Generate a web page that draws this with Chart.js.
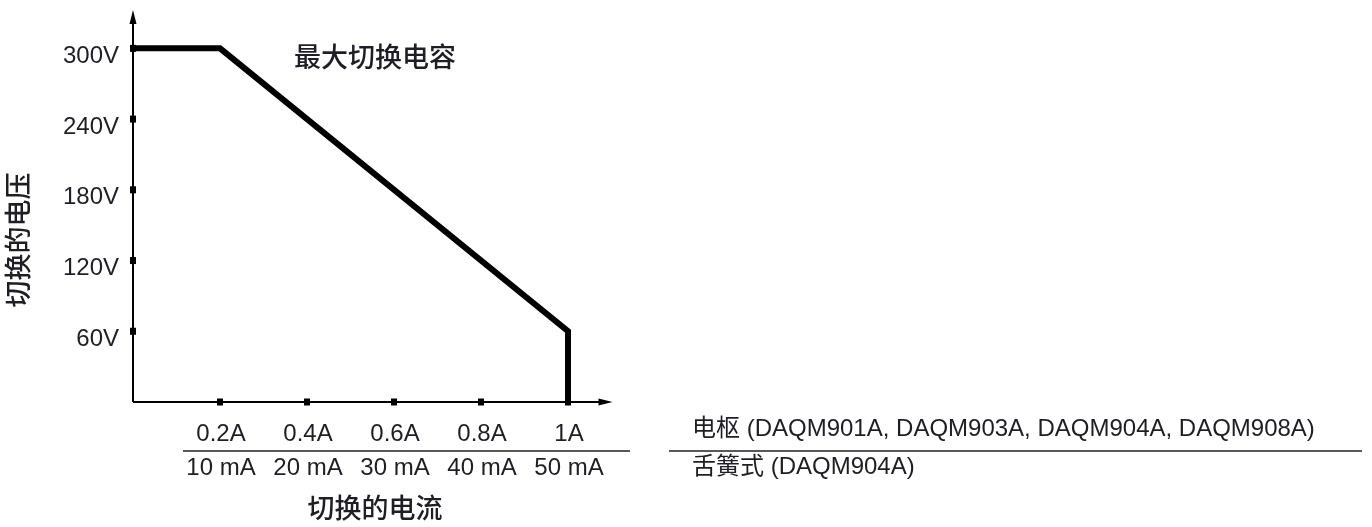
<!DOCTYPE html>
<html>
<head>
<meta charset="utf-8">
<script src="https://cdn.jsdelivr.net/npm/chart.js@4.4.1/dist/chart.umd.min.js"></script>
<style>
  html, body { margin: 0; padding: 0; background: #fff; }
  #wrap { width: 1372px; height: 527px; position: relative; }
</style>
</head>
<body>
<div id="wrap"><canvas id="derating"></canvas></div>
<script>
// curve: max switched voltage vs switched current
var currentA = [0, 0.2, 1.0, 1.0];
var voltageV = [300, 300, 60, 0];

// tick labels
var xTickVals = [0.2, 0.4, 0.6, 0.8, 1.0];
var xTickAmp = ['0.2A', '0.4A', '0.6A', '0.8A', '1A'];
var xTickReed = ['10 mA', '20 mA', '30 mA', '40 mA', '50 mA'];
var yTickVals = [60, 120, 180, 240, 300];
var yTickText = ['60V', '120V', '180V', '240V', '300V'];

var rowArmature = '电枢 (DAQM901A, DAQM903A, DAQM904A, DAQM908A)';
var rowReed = '舌簧式 (DAQM904A)';
var curveLabel = '最大切换电容';
var xTitle = '切换的电流';
var yTitle = '切换的电压';

var FONT = "'Liberation Sans', Arial, 'Noto Sans CJK SC', sans-serif";
var INK = '#1e1e24';

function findIdx(list, v) {
  for (var i = 0; i < list.length; i++) {
    if (Math.abs(list[i] - v) < 1e-6) return i;
  }
  return -1;
}

// axes with arrows, tick dots, extra label rows
var decor = {
  id: 'decor',
  beforeDatasetsDraw: function(chart) {
    var c = chart.ctx, x = chart.scales.x, y = chart.scales.y;
    var x0 = x.getPixelForValue(0), y0 = y.getPixelForValue(0);
    var xEnd = x.right + 1, yEnd = y.top - 3;
    c.save();
    c.strokeStyle = '#000';
    c.fillStyle = '#000';
    c.lineWidth = 2;
    c.beginPath();
    c.moveTo(x0, y0); c.lineTo(xEnd - 6, y0);
    c.moveTo(x0, y0); c.lineTo(x0, yEnd + 6);
    c.stroke();
    // arrow heads
    c.beginPath();
    c.moveTo(xEnd, y0); c.lineTo(xEnd - 14, y0 - 3.5); c.lineTo(xEnd - 14, y0 + 3.5); c.closePath();
    c.fill();
    c.beginPath();
    c.moveTo(x0, yEnd); c.lineTo(x0 - 3.5, yEnd + 14); c.lineTo(x0 + 3.5, yEnd + 14); c.closePath();
    c.fill();
    c.restore();
  },
  afterDraw: function(chart) {
    var c = chart.ctx, x = chart.scales.x, y = chart.scales.y;
    var x0 = x.getPixelForValue(0), y0 = y.getPixelForValue(0);
    c.save();
    c.fillStyle = '#000';
    xTickVals.forEach(function(v) {
      c.fillRect(x.getPixelForValue(v) - 3, y0 - 3.5, 6, 7);
    });
    yTickVals.forEach(function(v) {
      c.fillRect(x0 - 3, y.getPixelForValue(v) - 3.5, 6, 7);
    });

    // separator lines between the two current rows
    c.strokeStyle = '#222';
    c.lineWidth = 1.5;
    c.beginPath();
    c.moveTo(183, 451); c.lineTo(630, 451);
    c.moveTo(669, 451); c.lineTo(1362, 451);
    c.stroke();

    c.fillStyle = INK;
    c.textBaseline = 'middle';
    c.textAlign = 'left';
    c.font = '24px ' + FONT;
    c.fillText(rowArmature, 692, 429);
    c.fillText(rowReed, 692, 467);

    c.font = '500 27px ' + FONT;
    c.fillText(curveLabel, 294, 60);
    c.textAlign = 'center';
    c.fillText(xTitle, 375, 511);
    c.translate(21, 240);
    c.rotate(-Math.PI / 2);
    c.fillText(yTitle, 0, 0);
    c.restore();
  }
};

var config = {
  type: 'line',
  data: {
    datasets: [{
      data: currentA.map(function(a, i) { return { x: a, y: voltageV[i] }; }),
      borderColor: '#000',
      borderWidth: 6,
      borderJoinStyle: 'miter',
      borderCapStyle: 'butt',
      pointRadius: 0,
      fill: false,
      tension: 0,
      clip: false
    }]
  },
  options: {
    responsive: true,
    maintainAspectRatio: false,
    animation: false,
    events: [],
    layout: { padding: { top: 13, right: 760.5, left: 0, bottom: 0 } },
    plugins: { legend: { display: false }, tooltip: { enabled: false }, title: { display: false } },
    scales: {
      x: {
        type: 'linear',
        min: 0,
        max: 1.1,
        grid: { display: false, drawTicks: false },
        border: { display: false },
        ticks: {
          stepSize: 0.2,
          includeBounds: false,
          autoSkip: false,
          maxRotation: 0,
          padding: 15,
          labelOffset: 1,
          color: INK,
          font: { family: FONT, size: 24, lineHeight: 1.42 },
          callback: function(v) {
            var i = findIdx(xTickVals, v);
            return i < 0 ? '' : [xTickAmp[i], xTickReed[i]];
          }
        },
        afterFit: function(s) {
          s.height = 125;
          s.paddingLeft = 0; s.paddingRight = 0;
        }
      },
      y: {
        min: 0,
        max: 330,
        grid: { display: false, drawTicks: false },
        border: { display: false },
        ticks: {
          stepSize: 60,
          includeBounds: false,
          padding: 14,
          labelOffset: 8,
          color: INK,
          font: { family: FONT, size: 24 },
          callback: function(v) {
            var i = findIdx(yTickVals, v);
            return i < 0 ? '' : yTickText[i];
          }
        },
        afterFit: function(s) {
          s.width = 133;
          s.paddingTop = 0; s.paddingBottom = 0;
        }
      }
    }
  },
  plugins: [decor]
};

window.onload = function() {
  var ctx = document.getElementById('derating').getContext('2d');
  window.myLine = new Chart(ctx, config);
};
</script>
</body>
</html>
